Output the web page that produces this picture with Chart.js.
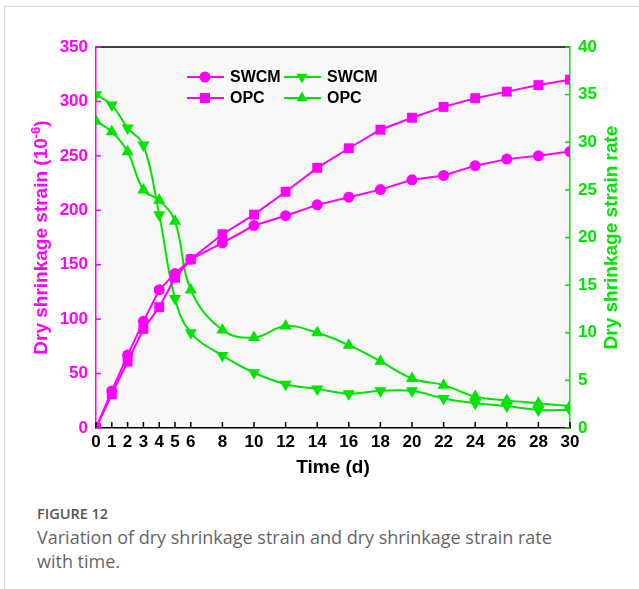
<!DOCTYPE html>
<html>
<head>
<meta charset="utf-8">
<script src="https://cdn.jsdelivr.net/npm/chart.js@4.4.0/dist/chart.umd.min.js"></script>
<style>
  html, body { margin: 0; padding: 0; background: #fff; width: 639px; height: 589px; overflow: hidden; }
  #frame { position: absolute; left: 4px; top: 6px; width: 700px; height: 700px;
           border-left: 1px solid #d6d6d6; border-top: 1px solid #d6d6d6; }
  #plot { position: absolute; left: 0; top: 0; }
  #cap { position: absolute; left: 37px; top: 505px; font-family: 'Open Sans', sans-serif; color: #666; }
  #cap .num { font-size: 14.5px; font-weight: 600; color: #555; line-height: 18px; }
  #cap .txt { font-size: 18px; line-height: 24px; margin-top: 2px; }
</style>
</head>
<body>
<div id="frame"></div>
<canvas id="plot" width="639" height="480"></canvas>
<div id="cap">
  <div class="num">FIGURE 12</div>
  <div class="txt">Variation of dry shrinkage strain and dry shrinkage strain rate<br>with time.</div>
</div>
<script>
// Curing age (days) and the measured series
const days = [0, 1, 2, 3, 4, 5, 6, 8, 10, 12, 14, 16, 18, 20, 22, 24, 26, 28, 30];
const xTicks = [0, 1, 2, 3, 4, 5, 6, 8, 10, 12, 14, 16, 18, 20, 22, 24, 26, 28, 30];

// Dry shrinkage strain (10^-6)
const strainSWCM = [0, 34, 67, 98, 127, 142, 155, 170, 186, 195, 205, 212, 219, 228, 232, 241, 247, 250, 254];
const strainOPC  = [0, 31, 61, 91, 111, 138, 155, 178, 196, 217, 239, 257, 274, 285, 295, 303, 309, 315, 320];

// Dry shrinkage strain rate
const rateSWCM = [35.0, 33.9, 31.5, 29.7, 22.4, 13.6, 10.0, 7.6, 5.8, 4.6, 4.1, 3.6, 3.9, 3.9, 3.1, 2.6, 2.3, 1.9, 1.9];
const rateOPC  = [32.2, 31.1, 29.0, 25.0, 23.9, 21.7, 14.5, 10.3, 9.5, 10.7, 10.0, 8.7, 7.0, 5.2, 4.5, 3.3, 2.9, 2.6, 2.3];

const strainRange = [0, 350];
const rateRange = [0, 40];

const MAG = '#ff00ff';
const GRN = '#00e400';
const FONT = "'Liberation Sans', Arial, sans-serif";
const TICK_FONT = { family: FONT, size: 17, weight: 'bold' };

const toPoints = (xs, ys) => xs.map((x, i) => ({ x: x, y: ys[i] }));

// simple marker shapes for the legend
function marker(ctx, style, x, y, color) {
  ctx.save();
  ctx.fillStyle = color;
  ctx.beginPath();
  if (style === 'circle') {
    ctx.arc(x, y, 5.5, 0, Math.PI * 2);
  } else if (style === 'rect') {
    ctx.rect(x - 5, y - 5, 10, 10);
  } else if (style === 'up') {
    ctx.moveTo(x, y - 6.5); ctx.lineTo(x + 5.6, y + 3.3); ctx.lineTo(x - 5.6, y + 3.3);
  } else {
    ctx.moveTo(x, y + 6.5); ctx.lineTo(x + 5.6, y - 3.3); ctx.lineTo(x - 5.6, y - 3.3);
  }
  ctx.closePath();
  ctx.fill();
  ctx.restore();
}

const frameDecor = {
  id: 'frameDecor',
  beforeDraw(chart) {
    const { ctx, chartArea: a } = chart;
    ctx.save();
    ctx.fillStyle = '#f8f8f8';
    ctx.fillRect(a.left, a.top, a.right - a.left, a.bottom - a.top);
    ctx.restore();
  },
  afterDraw(chart) {
    const { ctx, chartArea: a, scales } = chart;
    ctx.save();
    // top frame line
    ctx.strokeStyle = '#000';
    ctx.lineWidth = 1.5;
    ctx.beginPath(); ctx.moveTo(a.left, a.top); ctx.lineTo(a.right, a.top); ctx.stroke();

    // inward tick marks
    const tick = (scale, color, fn) => {
      ctx.strokeStyle = color; ctx.lineWidth = 1.5;
      scale.ticks.forEach(t => { const p = scale.getPixelForValue(t.value); ctx.beginPath(); fn(p); ctx.stroke(); });
    };
    tick(scales.x, '#000', p => { ctx.moveTo(p, a.bottom); ctx.lineTo(p, a.bottom - 6); });
    tick(scales.y, MAG, p => { ctx.moveTo(a.left, p); ctx.lineTo(a.left + 5, p); });
    tick(scales.y2, GRN, p => { ctx.moveTo(a.right, p); ctx.lineTo(a.right - 5, p); });

    // axis titles
    const cy = (a.top + a.bottom) / 2;
    ctx.textBaseline = 'middle';
    ctx.font = 'bold 19px ' + FONT;
    ctx.fillStyle = '#000';
    ctx.textAlign = 'center';
    ctx.fillText('Time (d)', (a.left + a.right) / 2, 468);

    // left title with superscript exponent
    ctx.save();
    ctx.translate(42, cy);
    ctx.rotate(-Math.PI / 2);
    ctx.fillStyle = MAG;
    const t1 = 'Dry shrinkage strain (10', t2 = '-6', t3 = ')';
    ctx.font = 'bold 19px ' + FONT;
    const w1 = ctx.measureText(t1).width, w3 = ctx.measureText(t3).width;
    ctx.font = 'bold 13px ' + FONT;
    const w2 = ctx.measureText(t2).width;
    let sx = -(w1 + w2 + w3) / 2;
    ctx.textAlign = 'left';
    ctx.font = 'bold 19px ' + FONT;
    ctx.fillText(t1, sx, 0);
    ctx.font = 'bold 13px ' + FONT;
    ctx.fillText(t2, sx + w1, -6);
    ctx.font = 'bold 19px ' + FONT;
    ctx.fillText(t3, sx + w1 + w2, 0);
    ctx.restore();

    // right title
    ctx.save();
    ctx.translate(612, cy);
    ctx.rotate(-Math.PI / 2);
    ctx.fillStyle = GRN;
    ctx.textAlign = 'center';
    ctx.font = 'bold 19px ' + FONT;
    ctx.fillText('Dry shrinkage strain rate', 0, 0);
    ctx.restore();

    // legend (two columns, two rows)
    const items = [
      { x: 187, y: 77, text: 'SWCM', color: MAG, style: 'circle' },
      { x: 284, y: 77, text: 'SWCM', color: GRN, style: 'down' },
      { x: 187, y: 98, text: 'OPC', color: MAG, style: 'rect' },
      { x: 284, y: 98, text: 'OPC', color: GRN, style: 'up' }
    ];
    ctx.font = 'bold 16px ' + FONT;
    ctx.textAlign = 'left';
    items.forEach(it => {
      ctx.strokeStyle = it.color; ctx.lineWidth = 2;
      ctx.beginPath(); ctx.moveTo(it.x, it.y); ctx.lineTo(it.x + 37, it.y); ctx.stroke();
      marker(ctx, it.style, it.x + 18, it.y, it.color);
      ctx.fillStyle = '#000';
      ctx.fillText(it.text, it.x + 43, it.y + 1);
    });
    ctx.restore();
  }
};

const ds = (label, ys, axis, color, style, radius, rotation, tension) => ({
  label: label,
  data: toPoints(days, ys),
  yAxisID: axis,
  borderColor: color,
  backgroundColor: color,
  pointBackgroundColor: color,
  pointBorderColor: color,
  pointBorderWidth: 0,
  pointStyle: style,
  pointRadius: radius,
  pointRotation: rotation,
  borderWidth: 2,
  tension: tension
});

new Chart(document.getElementById('plot'), {
  type: 'line',
  data: {
    datasets: [
      ds('SWCM', strainSWCM, 'y', MAG, 'circle', 5.5, 0, 0),
      ds('OPC', strainOPC, 'y', MAG, 'rect', 7, 0, 0),
      ds('SWCM', rateSWCM, 'y2', GRN, 'triangle', 7, 180, 0.4),
      ds('OPC', rateOPC, 'y2', GRN, 'triangle', 7, 0, 0.4)
    ]
  },
  options: {
    responsive: false,
    animation: false,
    devicePixelRatio: 1,
    layout: { padding: { left: 0, right: 0, top: 47, bottom: 0 } },
    plugins: { legend: { display: false }, tooltip: { enabled: false } },
    scales: {
      x: {
        type: 'linear', min: 0, max: 30,
        afterBuildTicks: s => { s.ticks = xTicks.map(v => ({ value: v })); },
        afterFit: s => { s.height = 52; },
        ticks: { autoSkip: false, maxRotation: 0, color: '#000', padding: 4, font: TICK_FONT },
        grid: { display: true, drawOnChartArea: false, drawTicks: false },
        border: { display: true, color: '#000', width: 1.5 }
      },
      y: {
        position: 'left', min: strainRange[0], max: strainRange[1],
        afterFit: s => { s.width = 96; },
        ticks: { stepSize: 50, color: MAG, padding: 8, font: TICK_FONT },
        grid: { display: true, drawOnChartArea: false, drawTicks: false },
        border: { display: true, color: MAG, width: 1.5 }
      },
      y2: {
        position: 'right', min: rateRange[0], max: rateRange[1],
        afterFit: s => { s.width = 69; },
        ticks: { stepSize: 5, color: GRN, padding: 8, font: TICK_FONT },
        grid: { display: true, drawOnChartArea: false, drawTicks: false },
        border: { display: true, color: GRN, width: 1.5 }
      }
    }
  },
  plugins: [frameDecor]
});
</script>
</body>
</html>
